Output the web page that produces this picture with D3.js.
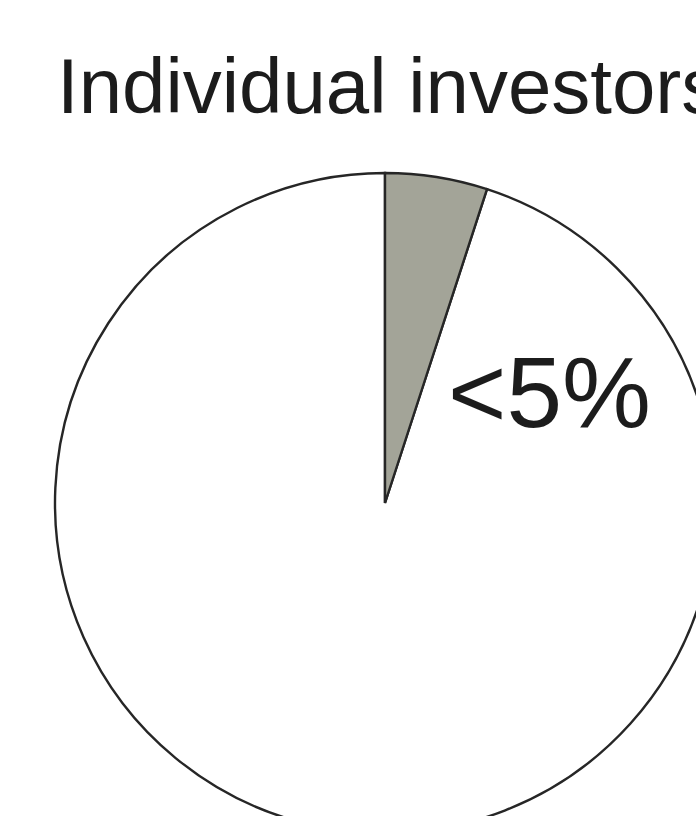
<!DOCTYPE html>
<html>
<head>
<meta charset="utf-8">
<script src="https://cdn.jsdelivr.net/npm/d3@7"></script>
<style>
  html, body { margin: 0; padding: 0; background: #ffffff; overflow: hidden; }
  svg { display: block; }
</style>
</head>
<body>
<script>
// Share of holdings: individual investors vs. the rest
const title = "Individual investors";
const categories = ["Individual investors", "Other"];
const values = [5, 95];
const sliceLabels = ["<5%", ""];

const width = 696, height = 816;
const cx = 385, cy = 503, radius = 330;

const svg = d3.select("body").append("svg")
  .attr("width", width)
  .attr("height", height);

svg.append("text")
  .attr("x", 57)
  .attr("y", 113)
  .attr("font-family", "'Liberation Sans', Arial, Helvetica, sans-serif")
  .attr("font-size", 78)
  .attr("fill", "#1c1c1c")
  .text(title);

const color = d3.scaleOrdinal()
  .domain(categories)
  .range(["#a3a498", "#ffffff"]);

const pie = d3.pie().sort(null).value(d => d.value);
const arcs = pie(categories.map((c, i) => ({ name: c, value: values[i], label: sliceLabels[i] })));
const arc = d3.arc().innerRadius(0).outerRadius(radius);

const g = svg.append("g").attr("transform", `translate(${cx},${cy})`);

// larger slice first so the small slice's outline sits on top
g.selectAll("path")
  .data(arcs.slice().reverse())
  .join("path")
  .attr("d", arc)
  .attr("fill", d => color(d.data.name))
  .attr("stroke", "#262626")
  .attr("stroke-width", 2.4)
  .attr("stroke-linejoin", "miter");

// value label placed just clockwise of the small slice
const first = arcs[0];
const labelAngle = first.endAngle + 0.13;
const labelR = 205;
g.append("text")
  .attr("x", Math.sin(labelAngle) * labelR - 25)
  .attr("y", -Math.cos(labelAngle) * labelR + 109)
  .attr("font-family", "'Liberation Sans', Arial, Helvetica, sans-serif")
  .attr("font-size", 100)
  .attr("fill", "#1c1c1c")
  .text(first.data.label);
</script>
</body>
</html>
